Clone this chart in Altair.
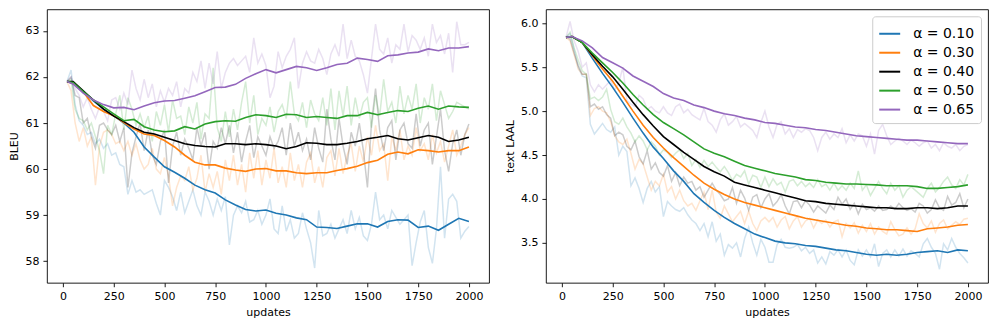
import altair as alt
import pandas as pd

updates_raw = list(range(20, 2001, 20))
updates_smooth = [20] + list(range(50, 2001, 50))
series_names = ["α = 0.10", "α = 0.30", "α = 0.40", "α = 0.50", "α = 0.65"]
series_colors = ["#1f77b4", "#ff7f0e", "#000000", "#2ca02c", "#9467bd"]
x_ticks = [0, 250, 500, 750, 1000, 1250, 1500, 1750, 2000]
bleu_ticks = [58, 59, 60, 61, 62, 63]
laal_ticks = [3.5, 4.0, 4.5, 5.0, 5.5, 6.0]

# ---------------- BLEU (left) raw ----------------
bleu_raw_010 = [61.9, 62.15, 61.4, 61.05, 60.95, 60.75, 60.8, 60.55, 60.65, 60.45,
                60.55, 60.3, 60.35, 60.1, 60.05, 59.45, 59.75, 59.5, 59.55, 59.45,
                59.5, 59.55, 59.25, 59.0, 59.75, 59.6, 59.4, 59.1, 59.5, 59.05,
                59.3, 59.55, 59.2, 59.0, 59.5, 59.3, 59.0, 59.35, 59.1, 59.4,
                58.35, 59.0, 59.2, 59.05, 59.3, 58.85, 58.9, 59.1, 58.8, 59.0,
                59.35, 58.7, 58.6, 59.2, 58.65, 58.9, 58.5, 58.6, 59.05, 58.7,
                58.4, 57.85, 59.1, 58.55, 58.6, 58.8, 58.5, 58.7, 58.9, 58.6,
                59.1, 58.7, 58.95, 58.55, 58.45, 58.8, 59.5, 58.9, 59.0, 58.7,
                59.1, 58.95, 58.8, 58.9, 59.0, 57.9, 58.4, 58.85, 59.1, 58.3,
                57.95, 58.7, 60.05, 58.5, 59.35, 59.45, 59.3, 58.5, 58.65, 58.75]
bleu_raw_030 = [61.9, 61.7, 61.0, 60.6, 60.9, 60.5, 60.7, 59.65, 60.5, 60.8,
                60.85, 60.75, 60.55, 60.6, 60.4, 60.6, 60.3, 60.55, 60.2, 60.0,
                60.1, 60.45, 60.0, 59.9, 60.25, 59.85, 59.2, 59.6, 59.85, 59.75,
                60.05, 59.55, 59.8, 60.3, 59.5, 59.9, 59.6, 59.95, 59.45, 60.2,
                59.75, 60.3, 59.65, 60.1, 59.5, 60.35, 59.8, 60.4, 59.65, 60.2,
                59.8, 60.45, 59.7, 60.05, 59.6, 60.35, 59.75, 60.1, 59.6, 60.15,
                60.35, 59.7, 60.05, 59.6, 60.25, 60.4, 59.85, 60.45, 59.9, 60.3,
                60.55, 59.95, 60.5, 60.15, 60.7, 60.3, 60.95, 60.4, 60.55, 59.75,
                60.7, 60.4, 60.85, 60.2, 60.5, 60.3, 60.9, 60.4, 60.55, 60.2,
                60.75, 60.35, 60.6, 60.15, 60.5, 60.85, 60.3, 60.5, 60.75, 60.9]
bleu_raw_040 = [61.9, 62.0, 61.6, 61.55, 61.0, 61.1, 60.7, 60.45, 60.95, 61.0,
                60.85, 60.75, 60.95, 60.6, 60.9, 59.6, 60.35, 60.7, 61.0, 60.4,
                60.85, 60.3, 60.1, 60.6, 60.85, 59.7, 60.5, 60.8, 60.3, 60.65,
                60.45, 60.2, 60.9, 60.5, 60.8, 60.0, 60.6, 60.45, 60.9, 60.55,
                60.95, 60.35, 60.8, 60.15, 60.6, 60.95, 60.25, 60.7, 60.5, 60.3,
                60.7, 60.45, 60.6, 60.9, 60.3, 61.0, 60.5, 60.8, 60.4, 60.65,
                60.2, 60.9, 60.45, 60.15, 61.3, 60.65, 60.2, 61.1, 60.5, 60.1,
                60.8, 60.5, 61.0, 60.4, 59.6, 61.0, 61.75, 60.85, 60.4, 60.9,
                61.05, 60.2, 60.85, 61.0, 60.55, 60.45, 61.2, 60.5, 60.85, 61.0,
                60.1, 60.7, 61.3, 60.4, 59.95, 60.55, 60.85, 60.3, 60.75, 60.98]
bleu_raw_050 = [61.9, 61.95, 61.3, 61.1, 61.05, 60.85, 61.0, 60.7, 60.4, 59.9,
                60.95, 60.75, 61.2, 61.6, 60.85, 61.55, 61.3, 60.95, 61.2, 60.9,
                61.15, 60.6, 61.25, 60.95, 61.4, 60.8, 61.5, 61.1, 61.15, 60.75,
                61.35, 61.0, 61.45, 60.65, 61.2, 61.1, 62.2, 60.9, 60.6, 61.25,
                60.7, 61.3, 60.85, 61.45, 61.9, 61.0, 61.6, 60.75, 61.1, 60.95,
                61.35, 60.8, 61.25, 61.4, 61.1, 61.9, 61.2, 61.05, 61.45, 60.9,
                61.5, 61.2, 61.05, 61.55, 60.95, 61.75, 60.85, 61.7, 61.15, 61.8,
                60.95, 61.55, 61.1, 61.45, 61.55, 60.9, 61.6, 61.15, 61.95, 61.25,
                61.45, 61.0, 61.8, 61.2, 61.6, 61.3, 61.85, 61.0, 61.55, 61.3,
                61.85, 61.05, 61.7, 61.4, 61.1, 61.25, 61.45, 61.4, 61.35, 61.3]
bleu_raw_065 = [61.9, 62.0, 61.75, 61.6, 61.35, 61.55, 61.3, 61.1, 61.35, 61.25,
                61.05, 61.5, 61.55, 61.3, 61.65, 61.4, 62.15, 61.75, 61.5, 61.95,
                61.55, 61.85, 61.35, 61.7, 61.45, 61.75, 61.6, 61.9, 61.35, 61.75,
                61.65, 62.1, 61.9, 62.35, 61.75, 62.3, 61.85, 62.55, 61.75, 62.1,
                62.3, 62.4, 62.25, 62.35, 62.45, 62.1, 62.85, 62.3, 62.5, 62.25,
                61.55, 61.8, 62.55, 62.2, 62.45, 62.6, 62.85, 61.75, 62.3, 62.55,
                62.35, 62.3, 62.6, 62.4, 62.05, 62.5, 62.7, 62.45, 63.15, 62.4,
                62.8, 62.45, 62.35, 62.05, 61.65, 62.4, 63.15, 62.6, 62.5, 62.85,
                62.3, 62.7, 62.6, 63.15, 62.55, 62.9, 62.8, 62.6, 62.85, 62.45,
                63.15, 62.75, 62.9, 62.5, 62.95, 62.1, 63.2, 62.7, 62.7, 62.75]

# ---------------- BLEU (left) smoothed ----------------
bleu_sm_010 = [61.9, 61.86, 61.68, 61.48, 61.3, 61.16, 61.0, 60.8, 60.48, 60.26,
               60.05, 59.93, 59.8, 59.65, 59.55, 59.48, 59.33, 59.22, 59.12, 59.09,
               59.11, 59.04, 59.0, 58.94, 58.9, 58.74, 58.73, 58.71, 58.76, 58.81,
               58.81, 58.74, 58.86, 58.9, 58.89, 58.73, 58.76, 58.67, 58.8, 58.93, 58.86]
bleu_sm_030 = [61.9, 61.86, 61.68, 61.38, 61.25, 61.16, 61.01, 60.87, 60.76, 60.73,
               60.62, 60.48, 60.3, 60.15, 60.09, 60.09, 60.02, 59.98, 59.95, 60.0,
               60.01, 59.96, 59.96, 59.92, 59.9, 59.92, 59.92, 59.97, 60.01, 60.06,
               60.14, 60.19, 60.32, 60.37, 60.33, 60.42, 60.4, 60.37, 60.4, 60.4, 60.48]
bleu_sm_040 = [61.9, 61.9, 61.7, 61.5, 61.3, 61.15, 61.03, 60.9, 60.8, 60.76,
               60.69, 60.62, 60.55, 60.51, 60.49, 60.48, 60.55, 60.55, 60.53, 60.55,
               60.53, 60.5, 60.44, 60.49, 60.57, 60.56, 60.53, 60.53, 60.56, 60.6,
               60.66, 60.69, 60.73, 60.66, 60.63, 60.68, 60.73, 60.69, 60.6, 60.63, 60.69]
bleu_sm_050 = [61.9, 61.88, 61.68, 61.5, 61.35, 61.2, 61.05, 61.08, 60.92, 60.85,
               60.81, 60.83, 60.92, 60.87, 60.98, 61.03, 61.05, 61.04, 61.12, 61.18,
               61.16, 61.12, 61.19, 61.18, 61.12, 61.14, 61.12, 61.1, 61.16, 61.16,
               61.23, 61.18, 61.23, 61.27, 61.25, 61.32, 61.37, 61.3, 61.37, 61.35, 61.34]
bleu_sm_065 = [61.9, 61.85, 61.65, 61.5, 61.4, 61.33, 61.34, 61.29, 61.37, 61.44,
               61.48, 61.49, 61.54, 61.59, 61.68, 61.77, 61.78, 61.84, 61.97, 62.07,
               62.16, 62.09, 62.16, 62.23, 62.2, 62.14, 62.2, 62.27, 62.3, 62.41,
               62.38, 62.34, 62.46, 62.48, 62.52, 62.54, 62.61, 62.57, 62.63, 62.63, 62.66]

# ---------------- text LAAL (right) raw ----------------
laal_raw_010 = [5.84, 5.88, 5.7, 5.5, 5.4, 5.38, 4.85, 4.74, 4.8, 4.86,
                4.79, 4.76, 4.82, 4.5, 4.6, 4.54, 4.15, 4.24, 4.12, 3.96,
                4.12, 4.2, 4.08, 4.14, 3.8, 3.97, 3.92, 3.88, 3.86, 3.9,
                3.82, 3.76, 3.72, 3.64, 3.72, 3.57, 3.74, 3.52, 3.6, 3.36,
                3.48, 3.44, 3.5, 3.34, 3.55, 3.68, 3.5, 3.36, 3.54, 3.45,
                3.28, 3.28, 3.48, 3.54, 3.45, 3.44, 3.45, 3.48, 3.41, 3.45,
                3.38, 3.42, 3.27, 3.34, 3.26, 3.4, 3.36, 3.42, 3.34, 3.42,
                3.3, 3.25, 3.42, 3.35, 3.42, 3.34, 3.49, 3.23, 3.38, 3.42,
                3.34, 3.42, 3.35, 3.43, 3.35, 3.41, 3.38, 3.34, 3.49, 3.55,
                3.45, 3.38, 3.2, 3.49, 3.42, 3.55, 3.45, 3.38, 3.33, 3.27]
laal_raw_030 = [5.84, 5.8, 5.64, 5.48, 5.42, 5.42, 4.95, 5.03, 5.05, 5.0,
                4.98, 4.88, 4.72, 4.65, 4.62, 4.68, 4.52, 4.34, 4.45, 4.4,
                4.25, 4.1, 4.2, 4.15, 4.28, 4.08, 4.14, 4.0, 4.1, 3.98,
                3.92, 3.95, 3.87, 3.98, 4.08, 3.88, 4.1, 3.85, 3.78, 3.92,
                3.83, 3.74, 3.8, 3.86, 3.72, 3.86, 3.72, 3.64, 3.75, 3.79,
                3.74, 3.79, 3.68, 3.76, 3.8, 3.66, 3.75, 3.8, 3.68, 3.75,
                3.78, 3.67, 3.76, 3.72, 3.76, 3.68, 3.74, 3.76, 3.57, 3.72,
                3.67, 3.73, 3.61, 3.7, 3.63, 3.72, 3.6, 3.68, 3.63, 3.6,
                3.74, 3.65, 3.58, 3.6, 3.67, 3.6, 3.66, 3.83, 3.72, 3.67,
                3.75, 3.62, 3.72, 3.76, 3.66, 3.7, 3.74, 3.71, 3.77, 3.78]
laal_raw_040 = [5.84, 5.82, 5.66, 5.52, 5.42, 5.42, 5.05, 5.08, 5.02, 5.05,
                4.96, 4.92, 4.72, 4.76, 4.73, 4.6, 4.56, 4.66, 4.48, 4.4,
                4.55, 4.34, 4.41, 4.3, 4.26, 4.38, 4.2, 4.3, 4.15, 4.25,
                4.18, 4.2, 4.1, 4.14, 4.02, 4.1, 4.18, 4.1, 4.05, 3.98,
                4.0, 4.13, 3.95, 4.1, 4.01, 3.87, 4.02, 4.05, 3.9, 4.0,
                4.06, 3.92, 3.97, 4.05, 3.92, 3.83, 3.97, 3.98, 3.9, 3.98,
                3.93, 3.85, 3.92, 3.88, 3.84, 3.93, 3.88, 4.02, 3.94, 4.0,
                3.88, 3.95, 3.83, 3.94, 3.88, 3.9, 3.86, 3.92, 3.87, 3.88,
                3.92, 3.88, 3.95, 3.9, 3.87, 3.89, 3.85, 3.95, 3.92, 3.84,
                3.88, 3.99, 3.9, 3.87, 4.03, 3.93, 3.96, 4.06, 3.9, 4.0]
laal_raw_050 = [5.84, 5.9, 5.72, 5.58, 5.46, 5.42, 5.14, 5.16, 5.12, 5.16,
                5.25, 5.02, 4.88, 4.85, 4.92, 4.82, 4.75, 4.65, 4.72, 4.66,
                4.56, 4.65, 4.6, 4.5, 4.56, 4.53, 4.47, 4.52, 4.56, 4.46,
                4.52, 4.38, 4.45, 4.36, 4.44, 4.37, 4.42, 4.36, 4.31, 4.37,
                4.3, 4.21, 4.28, 4.25, 4.32, 4.17, 4.27, 4.25, 4.13, 4.25,
                4.14, 4.23, 4.16, 4.19, 4.08, 4.2, 4.22, 4.15, 4.2, 4.14,
                4.18, 4.13, 4.22, 4.14, 4.17, 4.1, 4.18, 4.1, 4.15, 4.1,
                4.18, 4.12, 4.32, 4.1, 4.16, 4.04, 4.12, 4.2, 4.12, 4.06,
                4.18, 4.1, 4.15, 4.02, 4.1, 4.14, 4.1, 4.06, 4.02, 4.12,
                4.18, 4.08, 4.13, 4.2, 4.25, 4.16, 4.12, 4.22, 4.16, 4.28]
laal_raw_065 = [5.84, 6.02, 5.8, 5.68, 5.5, 5.55, 5.3, 5.22, 5.3, 5.25,
                5.3, 5.35, 5.24, 5.32, 5.5, 5.12, 5.08, 5.05, 5.18, 5.14,
                5.02, 5.05, 5.0, 4.98, 5.05, 4.98, 4.95, 5.05, 5.08, 4.98,
                5.02, 4.96, 4.93, 4.9, 5.03, 4.88, 4.84, 4.76, 4.9, 4.97,
                4.84, 4.88, 4.94, 4.82, 4.86, 4.82, 4.78, 4.7, 4.87, 5.0,
                4.82, 4.7, 4.85, 4.88, 4.74, 4.8, 4.7, 4.79, 4.76, 4.8,
                4.78, 4.7, 4.55, 4.7, 4.76, 4.68, 4.74, 4.7, 4.8, 4.64,
                4.73, 4.66, 4.74, 4.72, 4.6, 4.74, 4.51, 4.78, 4.85, 4.72,
                4.62, 4.66, 4.69, 4.66, 4.62, 4.67, 4.64, 4.6, 4.64, 4.66,
                4.58, 4.62, 4.55, 4.64, 4.6, 4.58, 4.62, 4.55, 4.6, 4.62]

# ---------------- text LAAL (right) smoothed ----------------
laal_sm_010 = [5.84, 5.85, 5.78, 5.6, 5.43, 5.27, 5.1, 4.92, 4.75, 4.59,
               4.46, 4.32, 4.2, 4.06, 3.96, 3.87, 3.79, 3.72, 3.66, 3.6,
               3.56, 3.52, 3.5, 3.49, 3.47, 3.46, 3.44, 3.42, 3.41, 3.39,
               3.37, 3.36, 3.37, 3.36, 3.37, 3.39, 3.4, 3.41, 3.39, 3.42, 3.41]
laal_sm_030 = [5.84, 5.85, 5.78, 5.63, 5.48, 5.34, 5.17, 5.0, 4.84, 4.7,
               4.58, 4.47, 4.37, 4.27, 4.18, 4.11, 4.05, 4.0, 3.96, 3.93,
               3.9, 3.87, 3.84, 3.81, 3.78, 3.76, 3.74, 3.72, 3.7, 3.69,
               3.67, 3.66, 3.65, 3.65, 3.64, 3.63, 3.66, 3.67, 3.68, 3.7, 3.71]
laal_sm_040 = [5.84, 5.85, 5.78, 5.64, 5.51, 5.39, 5.25, 5.1, 4.96, 4.83,
               4.71, 4.62, 4.53, 4.45, 4.37, 4.31, 4.26, 4.19, 4.16, 4.13,
               4.1, 4.07, 4.04, 4.01, 3.98, 3.97, 3.95, 3.94, 3.93, 3.92,
               3.91, 3.9, 3.9, 3.89, 3.89, 3.9, 3.9, 3.89, 3.9, 3.92, 3.92]
laal_sm_050 = [5.84, 5.85, 5.78, 5.66, 5.55, 5.44, 5.32, 5.19, 5.07, 4.96,
               4.87, 4.8, 4.73, 4.65, 4.57, 4.52, 4.48, 4.43, 4.38, 4.35,
               4.32, 4.29, 4.27, 4.25, 4.22, 4.21, 4.19, 4.18, 4.17, 4.17,
               4.165, 4.16, 4.15, 4.15, 4.15, 4.14, 4.12, 4.12, 4.13, 4.14, 4.16]
laal_sm_065 = [5.84, 5.85, 5.8, 5.72, 5.61, 5.55, 5.49, 5.4, 5.34, 5.28,
               5.2, 5.15, 5.12, 5.07, 5.04, 5.0, 4.97, 4.95, 4.92, 4.9,
               4.87, 4.86, 4.84, 4.82, 4.81, 4.79, 4.78, 4.76, 4.74, 4.72,
               4.71, 4.7, 4.69, 4.68, 4.67, 4.67, 4.66, 4.65, 4.64, 4.63, 4.63]

bleu_raw = [bleu_raw_010, bleu_raw_030, bleu_raw_040, bleu_raw_050, bleu_raw_065]
bleu_sm = [bleu_sm_010, bleu_sm_030, bleu_sm_040, bleu_sm_050, bleu_sm_065]
laal_raw = [laal_raw_010, laal_raw_030, laal_raw_040, laal_raw_050, laal_raw_065]
laal_sm = [laal_sm_010, laal_sm_030, laal_sm_040, laal_sm_050, laal_sm_065]


def long_df(xs, arrays):
    # "series" feeds the legend; "run" is an identical copy used by the
    # curves that stay out of the legend.
    rows = []
    for name, arr in zip(series_names, arrays):
        assert len(arr) == len(xs), (name, len(arr))
        for u, v in zip(xs, arr):
            rows.append({"updates": u, "value": v, "series": name, "run": name})
    return pd.DataFrame(rows)


FONT = "DejaVu Sans"

# The no-legend curves use a data-derived domain (sorted names, same order
# as series_names) so that Vega-Lite does not merge their disabled legend
# with the visible colour legend, which shares the explicit domain.
run_scale = alt.Scale(range=series_colors)


def panel(raw_arrays, sm_arrays, ytitle, ydomain, yticks, yfmt, with_legend):
    x = alt.X("updates:Q",
              scale=alt.Scale(domain=[-79, 2099], nice=False, zero=False),
              axis=alt.Axis(values=x_ticks, title="updates", format="d"))
    y = alt.Y("value:Q",
              scale=alt.Scale(domain=ydomain, nice=False, zero=False),
              axis=alt.Axis(values=yticks, title=ytitle, format=yfmt))
    raw = alt.Chart(long_df(updates_raw, raw_arrays)).mark_line(
        strokeWidth=1.5, opacity=0.2
    ).encode(x=x, y=y,
             stroke=alt.Stroke("run:N", scale=run_scale, legend=None))
    sm_base = alt.Chart(long_df(updates_smooth, sm_arrays)).mark_line(strokeWidth=1.6)
    if with_legend:
        sm = sm_base.encode(
            x=x, y=y,
            color=alt.Color("series:N",
                            scale=alt.Scale(domain=series_names, range=series_colors),
                            legend=alt.Legend(
                                title=None, orient="top-right", offset=7,
                                symbolType="stroke", symbolSize=441,
                                symbolStrokeWidth=2,
                                labelFont=FONT, labelFontSize=14,
                                labelColor="black", labelOffset=12,
                                fillColor="white", strokeColor="#cccccc",
                                cornerRadius=3, padding=6, rowPadding=0)))
    else:
        sm = sm_base.encode(
            x=x, y=y,
            stroke=alt.Stroke("run:N", scale=run_scale, legend=None))
    return alt.layer(raw, sm).properties(width=443, height=274)


left = panel(bleu_raw, bleu_sm, "BLEU", [57.53, 63.47], bleu_ticks, "d", False)
right = panel(laal_raw, laal_sm, "text LAAL", [3.046, 6.159], laal_ticks, ".1f", True)

chart = alt.hconcat(left, right, spacing=14).resolve_scale(
    color="independent", stroke="independent"
).resolve_legend(
    color="independent", stroke="independent"
).properties(padding=0).configure_view(
    stroke="black", strokeWidth=0.9
).configure_axis(
    grid=False, domain=False,
    labelFont=FONT, labelFontSize=11, labelColor="black",
    titleFont=FONT, titleFontSize=11, titleFontWeight="normal", titleColor="black",
    tickColor="black", tickSize=4, tickWidth=0.9, labelPadding=4,
    titlePadding=5, labelFlush=False, labelOverlap=False,
)

chart.save("out.html", embed_options={"renderer": "svg", "actions": False})
